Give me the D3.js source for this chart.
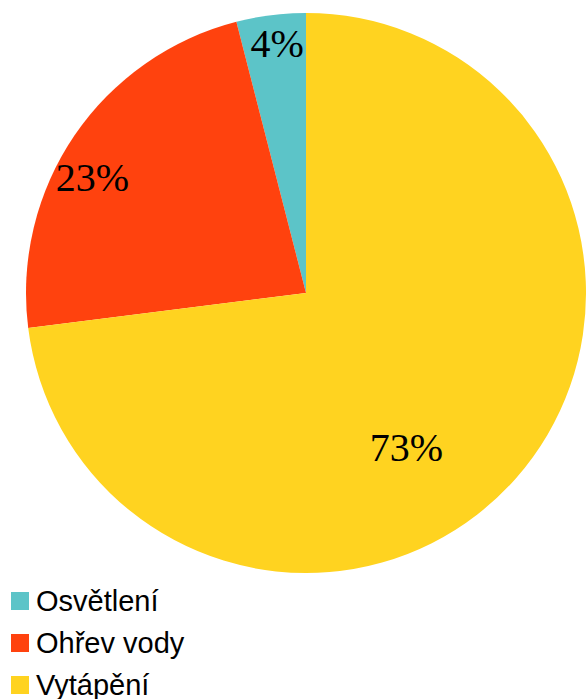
<!DOCTYPE html>
<html>
<head>
<meta charset="utf-8">
<script src="https://cdn.jsdelivr.net/npm/d3@7"></script>
<style>
  html, body { margin: 0; padding: 0; background: #fff; }
  svg { display: block; }
</style>
</head>
<body>
<svg id="chart" width="586" height="699"></svg>
<script>
// Energy use shares
const categories = ["Osvětlení", "Ohřev vody", "Vytápění"];
const values = [4, 23, 73];
const labels = ["4%", "23%", "73%"];
const colors = ["#5cc4c8", "#ff420e", "#ffd320"];

const svg = d3.select("#chart");
const cx = 306, cy = 293, r = 280;

// Slices run counter-clockwise from 12 o'clock
const pie = d3.pie().sort(null).value(d => d)
  .startAngle(0).endAngle(-2 * Math.PI);
const arcs = pie(values);
const arc = d3.arc().innerRadius(0).outerRadius(r);

const g = svg.append("g").attr("transform", `translate(${cx},${cy})`);
g.selectAll("path").data(arcs).join("path")
  .attr("d", arc)
  .attr("fill", (d, i) => colors[i]);

// Label placement inside each slice: angle (deg, clockwise from top) and radius fraction
const labelPlace = [[-6.6, 0.896], [-61.7, 0.866], [147.1, 0.66]];
g.selectAll("text").data(arcs).join("text")
  .attr("transform", (d, i) => {
    const a = labelPlace[i][0] * Math.PI / 180;
    const rr = r * labelPlace[i][1];
    return `translate(${rr * Math.sin(a)},${-rr * Math.cos(a)})`;
  })
  .attr("text-anchor", "middle")
  .attr("dy", "0.33em")
  .attr("font-family", "'Liberation Serif', serif")
  .attr("font-size", 40)
  .attr("fill", "#000")
  .text((d, i) => labels[i]);

// Legend
const legend = svg.append("g").attr("transform", "translate(11,592)");
const rows = legend.selectAll("g").data(categories).join("g")
  .attr("transform", (d, i) => `translate(0,${i * 42})`);
rows.append("rect")
  .attr("width", 18).attr("height", 18)
  .attr("fill", (d, i) => colors[i]);
rows.append("text")
  .attr("x", 25).attr("y", 19)
  .attr("font-family", "'Liberation Sans', Arial, sans-serif")
  .attr("font-size", 29)
  .attr("fill", "#000")
  .text(d => d);
</script>
</body>
</html>
